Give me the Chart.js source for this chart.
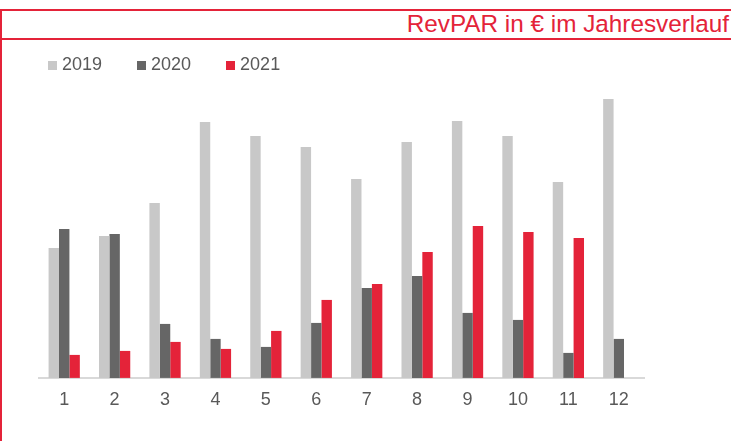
<!DOCTYPE html>
<html lang="de">
<head>
    <meta charset="UTF-8">
    <title>RevPAR in € im Jahresverlauf</title>
    <script src="https://cdn.jsdelivr.net/npm/chart.js"></script>
    <style>
        body { margin: 0; width: 731px; height: 441px; overflow: hidden; background: #fff; font-family: "Liberation Sans", Arial, sans-serif; }
        #frame { position: absolute; left: 0; top: 9px; width: 740px; height: 440px; border-top: 2px solid #e42339; border-left: 2px solid #e42339; }
        #title { position: absolute; left: 0; top: 0; width: 731px; height: 27px; border-bottom: 2.5px solid #e42339; }
        #title span { position: absolute; right: 4px; top: -1px; font-size: 24.3px; color: #e42339; white-space: nowrap; }
        #legend { position: absolute; left: 48px; top: 54px; display: flex; }
        .item { display: flex; align-items: center; margin-right: 35px; font-size: 18px; color: #595959; }
        .item i { display: inline-block; width: 9px; height: 9px; margin-right: 5px; margin-top: 2px; }
        #wrap { position: absolute; left: 0; top: 0; width: 731px; height: 441px; }
    </style>
</head>
<body>
    <div id="frame"><div id="title"><span>RevPAR in € im Jahresverlauf</span></div></div>
    <div id="wrap"><canvas id="revparChart"></canvas></div>
    <div id="legend"></div>

    <script>
        // Monate
        const months = ['1', '2', '3', '4', '5', '6', '7', '8', '9', '10', '11', '12'];
        const years = ['2019', '2020', '2021'];
        // RevPAR in € (aus der Grafik geschätzt)
        const revpar2019 = [65, 71, 87.5, 128, 121, 115.5, 99.5, 118, 128.5, 121, 98, 139.5];
        const revpar2020 = [74.5, 72, 27, 19.5, 15.5, 27.5, 45, 51, 32.5, 29, 12.5, 19.5];
        const revpar2021 = [11.5, 13.5, 18, 14.5, 23.5, 39, 47, 63, 76, 73, 70, null];
        const colors = ['#c8c8c8', '#666666', '#e42339'];

        const series = [revpar2019, revpar2020, revpar2021];

        const ctx = document.getElementById('revparChart').getContext('2d');
        const revparChart = new Chart(ctx, {
            type: 'bar',
            data: {
                labels: months,
                datasets: series.map((values, i) => ({
                    label: years[i],
                    data: values,
                    backgroundColor: colors[i],
                    categoryPercentage: 0.62,
                    barPercentage: 1.0
                }))
            },
            options: {
                responsive: true,
                maintainAspectRatio: false,
                animation: false,
                layout: { padding: { left: 39, right: 87, top: 88, bottom: 26.5 } },
                plugins: {
                    legend: { display: false },
                    tooltip: { enabled: false }
                },
                scales: {
                    x: {
                        grid: { display: false },
                        border: { display: true, color: '#d9d9d9', width: 2 },
                        ticks: {
                            color: '#595959',
                            padding: 3.5,
                            font: { family: '"Liberation Sans", Arial, sans-serif', size: 18 }
                        }
                    },
                    y: {
                        display: false,
                        min: 0,
                        max: 145
                    }
                }
            }
        });

        // Legende aus den Datensätzen
        const legend = document.getElementById('legend');
        revparChart.data.datasets.forEach(ds => {
            const item = document.createElement('div');
            item.className = 'item';
            item.innerHTML = '<i style="background:' + ds.backgroundColor + '"></i>' + ds.label;
            legend.appendChild(item);
        });
    </script>
</body>
</html>
